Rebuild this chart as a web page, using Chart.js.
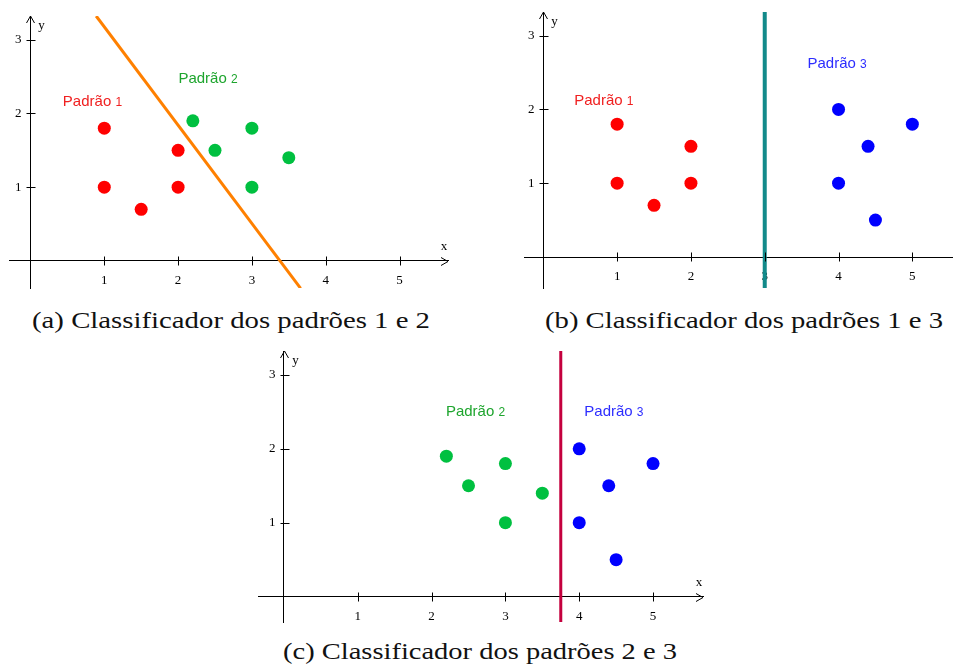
<!DOCTYPE html>
<html>
<head>
<meta charset="utf-8">
<script src="https://cdn.jsdelivr.net/npm/chart.js@4.4.1/dist/chart.umd.min.js"></script>
<style>
html, body { margin:0; padding:0; background:#ffffff; width:953px; height:666px; overflow:hidden; }
.wrap { position:absolute; }
.wrap canvas { display:block; }
.cap { position:absolute; font-family:"Times New Roman","Liberation Serif",serif; font-size:23px; line-height:23px; color:#111; white-space:nowrap; transform-origin:0 0; }
</style>
</head>
<body>
<div class="wrap" style="left:0px;top:0px;width:470px;height:300px"><canvas id="chartA"></canvas></div>
<div class="wrap" style="left:480px;top:0px;width:473px;height:300px"><canvas id="chartB"></canvas></div>
<div class="wrap" style="left:240px;top:340px;width:480px;height:292px"><canvas id="chartC"></canvas></div>
<div class="cap" id="capA"></div>
<div class="cap" id="capB"></div>
<div class="cap" id="capC"></div>
<script>
// ---------- data ----------
const xTicks = [1, 2, 3, 4, 5];
const yTicks = [1, 2, 3];
const xTickLabels = ['1', '2', '3', '4', '5'];
const yTickLabels = ['1', '2', '3'];

const seriesNames = ['Padrão 1', 'Padrão 2', 'Padrão 3'];

const padrao1X = [1, 1, 1.5, 2, 2];
const padrao1Y = [1.8, 1, 0.7, 1.5, 1];
const padrao2X = [2.2, 2.5, 3, 3, 3.5];
const padrao2Y = [1.9, 1.5, 1.8, 1, 1.4];
const padrao3X = [4, 4.4, 5, 4, 4.5];
const padrao3Y = [2, 1.5, 1.8, 1, 0.5];

const boundaryAX = [0.89, 3.66];
const boundaryAY = [3.32, -0.37];
const boundaryBX = [3, 3];
const boundaryBY = [3.32, -0.42];
const boundaryCX = [3.75, 3.75];
const boundaryCY = [3.33, -0.345];

const captions = [
  '(a) Classificador dos padrões 1 e 2',
  '(b) Classificador dos padrões 1 e 3',
  '(c) Classificador dos padrões 2 e 3'
];

// ---------- helpers ----------
const SERIF = '"Times New Roman", "Liberation Serif", serif';
const SANS = '"Liberation Sans", Arial, sans-serif';
const pts = (xs, ys) => xs.map((x, i) => ({ x: x, y: ys[i] }));
const colors = {
  p1: '#ff0000', p2: '#00c040', p3: '#0000ff',
  l1: '#f02020', l2: '#1ea52e', l3: '#2d2dff'
};

function pointSet(name, xs, ys, color) {
  return {
    label: name, data: pts(xs, ys),
    backgroundColor: color, borderColor: color,
    pointRadius: 6.5, pointHoverRadius: 6.5, borderWidth: 0, showLine: false
  };
}
function lineSet(xs, ys, color, width) {
  return {
    label: 'fronteira', data: pts(xs, ys),
    borderColor: color, backgroundColor: color,
    borderWidth: width, pointRadius: 0, showLine: true, fill: false, tension: 0
  };
}

const decor = {
  id: 'decor',
  afterDraw(chart, args, o) {
    const ctx = chart.ctx;
    const xs = chart.scales.x, ys = chart.scales.y;
    const x0 = Math.round(xs.getPixelForValue(0)) + 0.5;
    const y0 = Math.round(ys.getPixelForValue(0)) + 0.5;
    ctx.save();
    ctx.strokeStyle = '#000';
    ctx.lineWidth = 1;
    ctx.beginPath();
    xTicks.forEach(v => {
      const px = Math.round(xs.getPixelForValue(v)) + 0.5;
      ctx.moveTo(px, y0 - 5); ctx.lineTo(px, y0 + 4);
    });
    yTicks.forEach(v => {
      const py = Math.round(ys.getPixelForValue(v)) + 0.5;
      ctx.moveTo(x0 - 4, py); ctx.lineTo(x0 + 5, py);
    });
    const top = ys.top;
    ctx.moveTo(x0 - 4, top + 7); ctx.lineTo(x0, top); ctx.lineTo(x0 + 4, top + 7);
    if (o.arrowX) {
      const ex = xs.right;
      ctx.moveTo(ex - 7, y0 - 4); ctx.lineTo(ex, y0); ctx.lineTo(ex - 7, y0 + 4);
    }
    ctx.stroke();
    ctx.fillStyle = '#000';
    ctx.font = '13px ' + SERIF;
    ctx.textBaseline = 'middle';
    // y tick labels (left of the vertical axis)
    ctx.textAlign = 'right';
    yTicks.forEach((v, i) => {
      ctx.fillText(yTickLabels[i], x0 - 9, ys.getPixelForValue(v));
    });
    ctx.textAlign = 'center';
    ctx.fillText('y', x0 + 11, top + 10);
    if (o.arrowX) ctx.fillText('x', xs.right - 4, y0 - 15);
    ctx.restore();
  },
  afterDatasetsDraw(chart, args, o) {
    const ctx = chart.ctx;
    const xs = chart.scales.x, ys = chart.scales.y;
    ctx.save();
    (o.labels || []).forEach(l => {
      const cx = xs.getPixelForValue(l.x), cy = ys.getPixelForValue(l.y);
      const parts = l.text.split(' ');
      const main = parts[0] + ' ', num = parts[1];
      ctx.font = '15px ' + SANS;
      const w1 = ctx.measureText(main).width;
      ctx.font = '12px ' + SANS;
      const w2 = ctx.measureText(num).width;
      const left = cx - (w1 + w2) / 2;
      const base = cy + 5.5;
      ctx.fillStyle = l.color;
      ctx.textAlign = 'left';
      ctx.textBaseline = 'alphabetic';
      ctx.font = '15px ' + SANS;
      ctx.fillText(main, left, base);
      ctx.font = '12px ' + SANS;
      ctx.fillText(num, left + w1, base);
    });
    ctx.restore();
  }
};

function makeChart(id, cfg) {
  return new Chart(document.getElementById(id), {
    type: 'scatter',
    data: { datasets: cfg.datasets },
    options: {
      responsive: true, maintainAspectRatio: false, animation: false,
      events: [],
      layout: { padding: cfg.padding, autoPadding: false },
      plugins: {
        legend: { display: false }, tooltip: { enabled: false },
        decor: { labels: cfg.labels, arrowX: cfg.arrowX }
      },
      scales: {
        x: {
          type: 'linear', min: cfg.xmin, max: cfg.xmax,
          position: { y: 0 }, z: 1,
          grid: { display: false, drawTicks: false },
          border: { display: true, color: '#000', width: 1 },
          afterBuildTicks: s => { s.ticks = xTicks.map(v => ({ value: v })); },
          ticks: {
            padding: 12, color: '#000',
            font: { family: SERIF, size: 13 },
            callback: (v) => xTickLabels[xTicks.indexOf(v)] || ''
          }
        },
        y: {
          type: 'linear', min: cfg.ymin, max: cfg.ymax,
          position: { x: 0 },
          grid: { display: false, drawTicks: false },
          border: { display: true, color: '#000', width: 1 },
          afterBuildTicks: s => { s.ticks = yTicks.map(v => ({ value: v })); },
          ticks: { display: false }
        }
      }
    },
    plugins: [decor]
  });
}

makeChart('chartA', {
  padding: { left: 9, right: 22, top: 16, bottom: 12 },
  xmin: -0.291, xmax: 5.657, ymin: -0.366, ymax: 3.32, arrowX: true,
  datasets: [
    lineSet(boundaryAX, boundaryAY, '#ff8000', 3),
    pointSet(seriesNames[0], padrao1X, padrao1Y, colors.p1),
    pointSet(seriesNames[1], padrao2X, padrao2Y, colors.p2)
  ],
  labels: [
    { text: seriesNames[0], x: 0.84, y: 2.18, color: colors.l1 },
    { text: seriesNames[1], x: 2.405, y: 2.49, color: colors.l2 }
  ]
});

makeChart('chartB', {
  padding: { left: 44, right: 0, top: 12, bottom: 12 },
  xmin: -0.262, xmax: 5.551, ymin: -0.42, ymax: 3.32, arrowX: false,
  datasets: [
    lineSet(boundaryBX, boundaryBY, '#128a8a', 4),
    pointSet(seriesNames[0], padrao1X, padrao1Y, colors.p1),
    pointSet(seriesNames[2], padrao3X, padrao3Y, colors.p3)
  ],
  labels: [
    { text: seriesNames[0], x: 0.82, y: 2.13, color: colors.l1 },
    { text: seriesNames[2], x: 3.98, y: 2.64, color: colors.l3 }
  ]
});

makeChart('chartC', {
  padding: { left: 18, right: 17, top: 11, bottom: 10 },
  xmin: -0.352, xmax: 5.677, ymin: -0.344, ymax: 3.324, arrowX: true,
  datasets: [
    lineSet(boundaryCX, boundaryCY, '#c4003e', 3),
    pointSet(seriesNames[1], padrao2X, padrao2Y, colors.p2),
    pointSet(seriesNames[2], padrao3X, padrao3Y, colors.p3)
  ],
  labels: [
    { text: seriesNames[1], x: 2.595, y: 2.515, color: colors.l2 },
    { text: seriesNames[2], x: 4.47, y: 2.515, color: colors.l3 }
  ]
});

// captions
const capPos = [
  { id: 'capA', left: 32, right: 430, base: 328 },
  { id: 'capB', left: 545, right: 943, base: 328 },
  { id: 'capC', left: 283, right: 677, base: 659 }
];
capPos.forEach((c, i) => {
  const el = document.getElementById(c.id);
  el.textContent = captions[i];
  el.style.left = c.left + 'px';
  el.style.top = (c.base - 0.8375 * 23) + 'px';
  const w = el.getBoundingClientRect().width;
  el.style.transform = 'scaleX(' + ((c.right - c.left) / w) + ')';
});
</script>
</body>
</html>
